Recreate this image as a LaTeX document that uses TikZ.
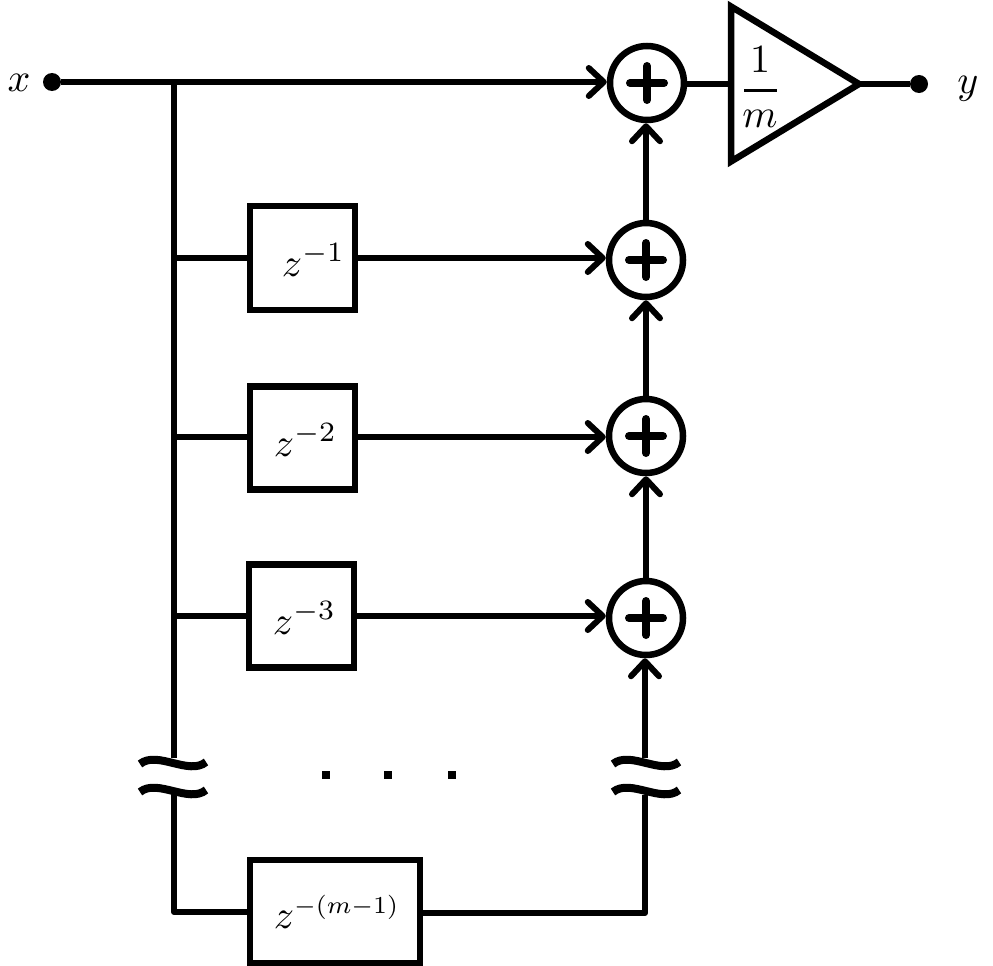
\documentclass[tikz,border=0pt]{standalone}
\usetikzlibrary{arrows.meta}
\tikzset{
  wire/.style={line width=6pt},
  arrowwire/.style={line width=6pt,-{Straight Barb[length=15pt,width=28pt,line width=6pt,round]}},
  delaybox/.style={draw,line width=6.5pt,rectangle,inner sep=0pt,fill=white},
  summer/.style={draw,line width=6.5pt,circle,minimum size=74pt,inner sep=0pt,fill=white},
  terminal/.style={circle,fill=black,minimum size=18pt,inner sep=0pt},
  lbl/.style={inner sep=0pt,scale=4},
  plusstroke/.style={line width=8pt,line cap=round},
  wavy/.style={line width=8pt},
  dotmark/.style={rectangle,fill=black,minimum size=8pt,inner sep=0pt}
}
\newcommand{\plussign}[1]{%
  \draw[plusstroke] ([xshift=-17pt]#1.center) -- ([xshift=17pt]#1.center);
  \draw[plusstroke] ([yshift=-17pt]#1.center) -- ([yshift=17pt]#1.center);
}
\newcommand{\breakmark}[2]{%
  \draw[wavy] (#1-33,#2+1) .. controls (#1-16,#2-13) and (#1+16,#2+13) .. (#1+33,#2-1);
}
\begin{document}
\begin{tikzpicture}[x=1pt,y=-1pt]
\useasboundingbox (0,0) rectangle (993,966);
% summers
\node[summer] (s1) at (647,83) {};
\node[summer] (s2) at (646,260) {};
\node[summer] (s3) at (646,436) {};
\node[summer] (s4) at (646,618) {};
\foreach \n in {s1,s2,s3,s4}{\plussign{\n}}
% delay boxes
\node[delaybox,minimum width=105pt,minimum height=104pt] (d1) at (302.5,258) {};
\node[delaybox,minimum width=105pt,minimum height=103pt] (d2) at (302.5,438) {};
\node[delaybox,minimum width=105pt,minimum height=103pt] (d3) at (301.5,616) {};
\node[delaybox,minimum width=170pt,minimum height=103pt] (d4) at (335,911.5) {};
\node[lbl,anchor=base west] (l1) at (281,276) {$z^{-1}$};
\node[lbl,anchor=base west] (l2) at (273,456) {$z^{-2}$};
\node[lbl,anchor=base west] (l3) at (272,634) {$z^{-3}$};
\node[lbl,anchor=base west] (l4) at (273,928) {$z^{\scalebox{0.87}{$\scriptstyle -(m-1)$}}$};
% terminals
\node[terminal] (x) at (52,82) {};
\node[terminal] (y) at (919,84) {};
\node[lbl,anchor=center] (xl) at (19,83) {$x$};
\node[lbl,anchor=center] (yl) at (968,89) {$y$};
% gain
\coordinate (gl) at (731,84);
\draw[line width=6.5pt,miter limit=10] (731,6.5) -- (731,161.5) -- (859,84) -- cycle;
\node[lbl,anchor=base] (g1) at (760,73) {$1$};
\node[lbl,anchor=base] (gm) at (760,127) {$m$};
\draw[line width=3pt] (744,90) -- (777,90);
% junctions
\coordinate (jx) at (174,82);
\coordinate (b1top) at (174,758);
\coordinate (b1bot) at (174,795);
\coordinate (j1) at (174,258);
\coordinate (j2) at (174,437);
\coordinate (j3) at (174,616);
\coordinate (jb) at (174,912);
\coordinate (cr) at (645,913);
\coordinate (b2bot) at (645,795);
\coordinate (b2top) at (645,758);
\coordinate (tip) at (859,84);
% wires
\draw[arrowwire] (x) -- (s1.west |- x);
\draw[wire] (jx) -- (b1top);
\draw[wire,line cap=round,line join=round] (b1bot) -- (jb) -- (d4.west |- jb);
\draw[wire] (j1) -- (d1.west |- j1);
\draw[wire] (j2) -- (d2.west |- j2);
\draw[wire] (j3) -- (d3.west |- j3);
\draw[arrowwire] (d1.east |- j1) -- (s2.west |- j1);
\draw[arrowwire] (d2.east |- j2) -- (s3.west |- j2);
\draw[arrowwire] (d3.east |- j3) -- (s4.west |- j3);
\draw[arrowwire] (s2.north) -- (s1.south -| s2.north);
\draw[arrowwire] (s3.north) -- (s2.south);
\draw[arrowwire] (s4.north) -- (s3.south);
\draw[arrowwire] (b2top) -- (s4.south -| b2top);
\draw[wire,line join=round] (d4.east |- cr) -- (cr) -- (b2bot);
\draw[wire] (s1.east |- gl) -- (gl);
\draw[wire] (tip) -- (y);
% breaks
\breakmark{173}{763}
\breakmark{173}{791}
\breakmark{646}{763}
\breakmark{646}{791}
% dots
\node[dotmark] (p1) at (326,775) {};
\node[dotmark] (p2) at (388,775) {};
\node[dotmark] (p3) at (452,775) {};
\end{tikzpicture}
\end{document}
